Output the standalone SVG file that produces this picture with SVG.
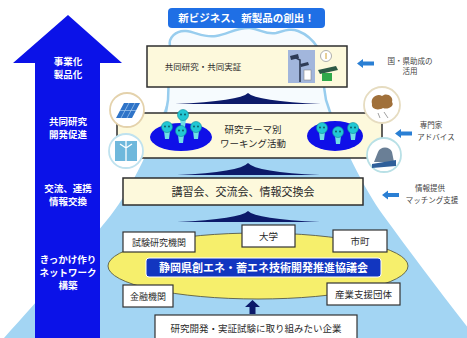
<svg xmlns="http://www.w3.org/2000/svg" width="467" height="338" viewBox="0 0 467 338">
  <defs>
    <style>
      text { font-family: "Noto Sans CJK JP", "Noto Sans", sans-serif; }
      .box { fill: #fdf9dc; stroke: #2e2e2e; stroke-width: 1.5; }
      .wbox { fill: #ffffff; stroke: #333333; stroke-width: 1.2; }
      .t { fill: #2b2b2b; text-anchor: middle; }
      .arrowtxt { fill: #ffffff; font-weight: bold; font-size: 9.5px; text-anchor: middle; }
      .side { fill: #444444; font-size: 7.5px; text-anchor: middle; }
      .roof { fill: #0c1a6a; }
      .sidearrow { fill: #2a7fd4; }
      .head { fill: #22c8d4; stroke: #0f8c98; stroke-width: 0.6; }
      .body { fill: #6fe0e6; }
      .icon { fill: #ffffff; stroke-width: 1.8; }
    </style>
    <g id="person">
      <path class="body" d="M -3 4 L 3 4 L 2 12 L -2 12 Z"/>
      <circle class="head" cx="0" cy="0" r="5.5"/>
      <circle cx="-2" cy="-0.5" r="0.9" fill="#0b5560"/>
      <circle cx="2" cy="-0.5" r="0.9" fill="#0b5560"/>
    </g>
    <path id="leftArrow" d="M 0 0 L 6 -4.5 L 6 -2 L 17 -2 L 17 2 L 6 2 L 6 4.5 Z"/>
  </defs>

  <rect width="467" height="338" fill="#ffffff"/>

  <!-- mountain -->
  <path d="M 4 338 C 40 298, 88 244, 111 215 C 132 188, 152 145, 168 100 L 170 48 L 320 48 L 326 100 C 342 145, 364 188, 383 215 C 410 252, 440 292, 476 338 Z" fill="#a3d5f3"/>
  <!-- snow cap -->
  <path d="M 165 118 L 168 100 L 170 46 C 168 38, 176 30, 186 31 C 196 32, 204 38, 216 36 C 228 34, 238 27, 250 28 C 260 29, 266 35, 276 33 C 284 31, 290 28, 298 31 C 306 34, 313 40, 318 48 L 326 100 L 332 118 Z" fill="#f6fbfe" stroke="#98cdee" stroke-width="2.5"/>

  <!-- big upward arrow -->
  <path d="M 68 15 L 122 63 L 100 63 L 100 338 L 35 338 L 35 63 L 13 63 Z" fill="#0b12e8"/>
  <text class="arrowtxt" x="68" y="65">事業化</text>
  <text class="arrowtxt" x="68" y="78">製品化</text>
  <text class="arrowtxt" x="68" y="125">共同研究</text>
  <text class="arrowtxt" x="68" y="138">開発促進</text>
  <text class="arrowtxt" x="68" y="192">交流、連携</text>
  <text class="arrowtxt" x="68" y="205">情報交換</text>
  <text class="arrowtxt" x="68" y="263">きっかけ作り</text>
  <text class="arrowtxt" x="68" y="276">ネットワーク</text>
  <text class="arrowtxt" x="68" y="289">構築</text>

  <!-- banner -->
  <g id="banner">
    <rect x="168" y="8" width="157" height="20" rx="4" fill="#1f6fe5"/>
    <text x="246.5" y="22" fill="#ffffff" font-size="10.5" font-weight="bold" text-anchor="middle">新ビジネス、新製品の創出！</text>
  </g>

  <!-- connectors: roofs and arrows -->
  <g id="connectors">
    <path class="roof" d="M 175 104 Q 240 101 248 93 Q 256 101 321 104 Z"/>
    <path class="roof" d="M 177 175 Q 240 172 248 163 Q 256 172 320 175 Z"/>
    <path class="roof" d="M 177 222 Q 240 219 248 211 Q 256 219 320 222 Z"/>
    <path d="M 252.5 300 L 260 307 L 255.5 307 L 255.5 314 L 249.5 314 L 249.5 307 L 245 307 Z" fill="#0c1a6a"/>
    <use href="#leftArrow" class="sidearrow" x="357" y="63.5"/>
    <use href="#leftArrow" class="sidearrow" x="395" y="133.5"/>
    <use href="#leftArrow" class="sidearrow" x="382" y="195"/>
  </g>

  <!-- box 1 -->
  <g id="joint-research">
    <rect class="box" x="147" y="46" width="200" height="41"/>
    <text class="t" x="203" y="70" font-size="8.5">共同研究・共同実証</text>
    <rect x="288" y="50" width="27" height="33" fill="#a2b6dc"/>
    <path d="M 300 82 L 300 60 L 294 57" stroke="#2e3b55" stroke-width="1.6" fill="none"/>
    <path d="M 290 56 L 298 54 L 299 58 L 291 60 Z" fill="#2e3b55"/>
    <path d="M 300 64 L 308 62 L 309 65 L 301 67 Z" fill="#2e3b55"/>
    <rect x="304" y="70" width="7" height="10" fill="#ffffff" stroke="#888" stroke-width="0.6"/>
    <circle cx="326" cy="56" r="5.5" fill="#ffffff" stroke="#9a9a9a" stroke-width="0.8"/>
    <path d="M 326 53 L 326 59" stroke="#d0a030" stroke-width="1"/>
    <path d="M 318 70 L 336 66 L 338 70 L 320 74 Z" fill="#2d5a46"/>
    <rect x="322" y="73" width="10" height="8" fill="#2fa84a"/>
  </g>
  <g id="grant-label">
    <text class="side" x="410" y="64">国・県助成の</text>
    <text class="side" x="410" y="74">活用</text>
  </g>

  <!-- box 2 -->
  <g id="working-groups">
    <rect class="box" x="117" y="113" width="265" height="45"/>
    <ellipse cx="181" cy="137" rx="31" ry="14" fill="#0f10e8"/>
    <ellipse cx="335" cy="136" rx="28" ry="15" fill="#0f10e8"/>
    <use href="#person" x="183" y="115"/>
    <use href="#person" x="167" y="127"/>
    <use href="#person" x="181" y="131"/>
    <use href="#person" x="196" y="127"/>
    <use href="#person" x="322" y="128"/>
    <use href="#person" x="338" y="132"/>
    <use href="#person" x="353" y="128"/>
    <text class="t" x="253" y="133" font-size="9.5">研究テーマ別</text>
    <text class="t" x="253" y="147" font-size="9.5">ワーキング活動</text>
  </g>
  <g id="icon-solar">
    <circle class="icon" cx="127" cy="110" r="17" stroke="#e4d2ac"/>
    <path d="M 116 118 L 124 103 L 140 103 L 132 118 Z" fill="#2f74c8"/>
    <path d="M 121 118 L 129 103 M 127 118 L 135 103 M 120 110.5 L 136 110.5" stroke="#a9cdf0" stroke-width="0.7"/>
  </g>
  <g id="icon-wind">
    <circle class="icon" cx="126" cy="151" r="17" stroke="#bfe2ef"/>
    <rect x="115" y="141" width="22" height="20" fill="#6fb8dc"/>
    <path d="M 126 161 L 126 148 M 126 148 L 120 144 M 126 148 L 132 144 M 126 148 L 126 141" stroke="#ffffff" stroke-width="1.3"/>
  </g>
  <g id="icon-expert">
    <circle class="icon" cx="382" cy="105" r="18" stroke="#e6dcc0"/>
    <path d="M 372 104 C 370 97, 378 93, 382 96 C 386 92, 394 96, 392 102 C 395 106, 388 110, 383 108 C 378 111, 371 109, 372 104 Z" fill="#a0703a"/>
    <path d="M 384 112 L 388 118 M 378 113 L 380 118" stroke="#888" stroke-width="0.8"/>
  </g>
  <g id="icon-advisor">
    <circle class="icon" cx="384" cy="155" r="17" stroke="#b8e0e6"/>
    <path d="M 374 162 L 394 162 L 392 152 C 390 146, 380 146, 378 152 Z" fill="#6a7f96"/>
    <path d="M 372 164 L 396 160 L 396 166 L 372 168 Z" fill="#2f5f9a"/>
  </g>
  <g id="advice-label">
    <text class="side" x="431" y="128">専門家</text>
    <text class="side" x="436" y="140">アドバイス</text>
  </g>

  <!-- box 3 -->
  <g id="seminars">
    <rect class="box" x="123" y="178" width="240" height="27"/>
    <text class="t" x="243" y="196" font-size="11">講習会、交流会、情報交換会</text>
  </g>
  <g id="matching-label">
    <text class="side" x="430" y="191">情報提供</text>
    <text class="side" x="432" y="203">マッチング支援</text>
  </g>

  <!-- council -->
  <g id="council">
    <ellipse cx="258" cy="266" rx="150" ry="33" fill="#f6ef6c" stroke="#4a4a3a" stroke-width="0.8"/>
    <rect x="146" y="258" width="235" height="19" rx="3" fill="#1236c0" stroke="#ffffff" stroke-width="1"/>
    <text x="263.5" y="272" fill="#ffffff" font-size="11" font-weight="bold" text-anchor="middle">静岡県創エネ・蓄エネ技術開発推進協議会</text>
  </g>
  <g id="research-institutes">
    <rect class="wbox" x="123" y="232" width="72" height="20"/>
    <text class="t" x="159" y="245.5" font-size="9">試験研究機関</text>
  </g>
  <g id="university">
    <rect class="wbox" x="242" y="225" width="53" height="22"/>
    <text class="t" x="268.5" y="239.5" font-size="9.5">大学</text>
  </g>
  <g id="municipalities">
    <rect class="wbox" x="333" y="230" width="54" height="22"/>
    <text class="t" x="360" y="244.5" font-size="9.5">市町</text>
  </g>
  <g id="financial">
    <rect class="wbox" x="123" y="285" width="50" height="22"/>
    <text class="t" x="148" y="299.5" font-size="9">金融機関</text>
  </g>
  <g id="industry-support">
    <rect class="wbox" x="327" y="283" width="73" height="22"/>
    <text class="t" x="363.5" y="297.5" font-size="9.5">産業支援団体</text>
  </g>
  <g id="companies">
    <rect class="wbox" x="155" y="315" width="202" height="30"/>
    <text class="t" x="256" y="332" font-size="9.5">研究開発・実証試験に取り組みたい企業</text>
  </g>
</svg>
